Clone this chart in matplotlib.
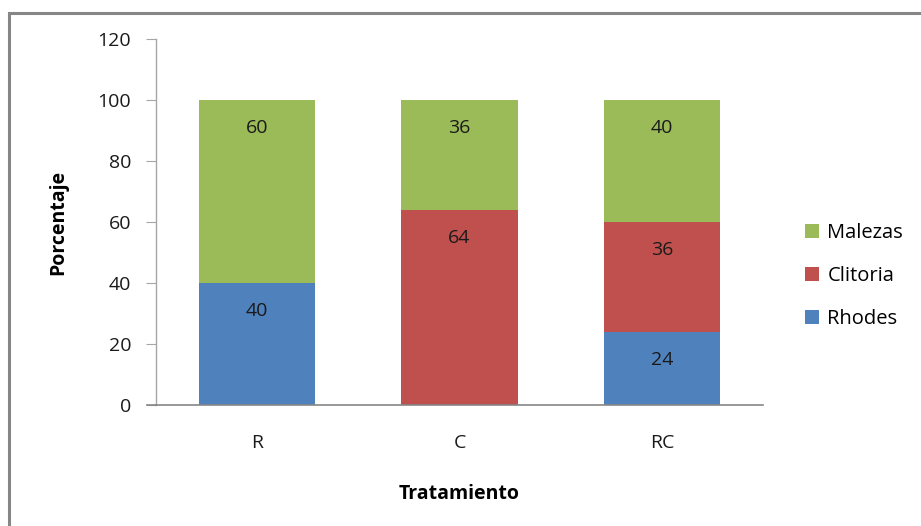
import matplotlib.pyplot as plt
from matplotlib.patches import Rectangle
import numpy as np

tratamientos = ["R", "C", "RC"]
rhodes = [40, 0, 24]
clitoria = [0, 64, 36]
malezas = [60, 36, 40]

series = [("Rhodes", rhodes, "#4F81BD"),
          ("Clitoria", clitoria, "#C0504D"),
          ("Malezas", malezas, "#9BBB59")]

plt.rcParams['font.family'] = ['Open Sans', 'DejaVu Sans']

W, H = 921, 526
fig = plt.figure(figsize=(W / 100, H / 100), dpi=100)
# plot area in pixels: x 156..763, y 39..405
ax = fig.add_axes([156 / W, 1 - 405 / H, (763 - 156) / W, (405 - 39) / H])

# outer chart border (left/top visible)
fig.patches.append(Rectangle((9 / W, -0.1), 1.2, 1 - 13 / H + 0.1,
                             transform=fig.transFigure, fill=False,
                             ec="#868686", lw=2.2))

x = np.arange(len(tratamientos))
bottom = np.zeros(len(tratamientos))
handles = []
for name, vals, col in series:
    vals = np.array(vals, dtype=float)
    b = ax.bar(x, vals, 0.575, bottom=bottom, color=col, label=name, zorder=2)
    handles.append(b)
    # labels sit "inside end" like excel
    for xi, v, bt in zip(x, vals, bottom):
        if v > 0:
            ax.annotate(f"{int(v)}", (xi, bt + v), xytext=(0, -20),
                        textcoords="offset points", ha="center", va="center",
                        fontsize=14, color="#1a1a1a")
    bottom += vals

ax.set_xlim(-0.5, len(tratamientos) - 0.5)
ax.set_ylim(0, 120)
ax.set_yticks(np.arange(0, 121, 20))
ax.set_xticks(x)
ax.set_xticklabels(tratamientos)
ax.tick_params(axis="y", length=7, color="#A6A6A6", labelsize=14, pad=11,
               labelcolor="#1a1a1a")
ax.tick_params(axis="x", length=0, labelsize=14, pad=21, labelcolor="#1a1a1a")

for s in ["top", "right"]:
    ax.spines[s].set_visible(False)
ax.spines["left"].set_color("#A6A6A6")
ax.spines["bottom"].set_color("#868686")
ax.spines["left"].set_linewidth(1.0)
ax.spines["bottom"].set_linewidth(1.2)
# x axis extends slightly to the left of the y axis
ax.plot([-0.5 - 9 / 202, -0.5], [0, 0], color="#868686", lw=1.2,
        clip_on=False, zorder=3)

ax.set_ylabel("Porcentaje", fontsize=14, fontweight="bold", labelpad=21)
ax.set_xlabel("Tratamiento", fontsize=14, fontweight="bold", labelpad=23)

leg = fig.legend(handles[::-1], [s[0] for s in series[::-1]],
                 loc="center left", bbox_to_anchor=(787 / W, 1 - 276 / H),
                 frameon=False, fontsize=14.5, handlelength=0.7, handleheight=0.7,
                 handletextpad=0.4, labelspacing=1.15)

fig.savefig("out.png", dpi=100)
